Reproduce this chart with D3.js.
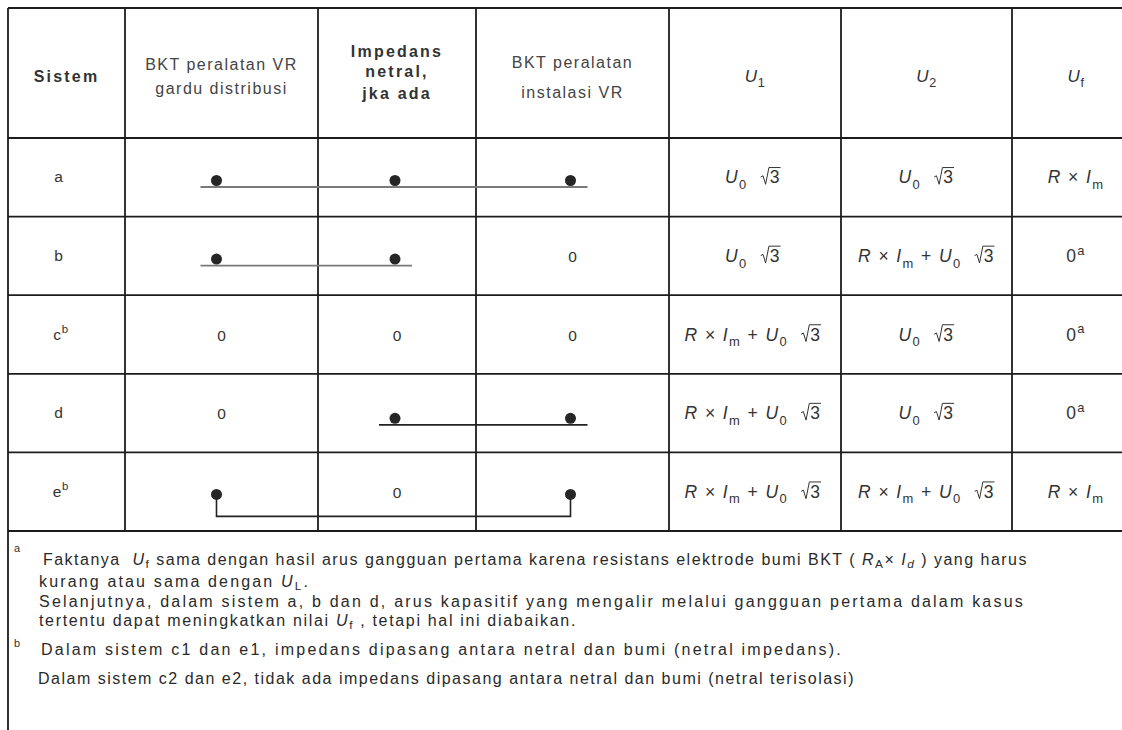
<!DOCTYPE html>
<html><head><meta charset="utf-8">
<script src="https://cdn.jsdelivr.net/npm/d3@7"></script>
<style>
body{margin:0;background:#fff}
svg{display:block}
text{font-family:"Liberation Sans",Arial,Helvetica,sans-serif;white-space:pre}
</style>
</head><body>
<svg id="chart" width="1122" height="730"></svg>
<script>
// ---------- data ----------
const columns = ["sistem","gardu","impedans","instalasi","u1","u2","uf"];
const headerLines = [
  ["Sistem"],
  ["BKT peralatan VR","gardu distribusi"],
  ["Impedans","netral,","jka ada"],
  ["BKT peralatan","instalasi VR"],
  ["U1"], ["U2"], ["Uf"]
];
const systems = ["a","b","c","d","e"];
const systemSup = ["","","b","","b"];
const gardu = ["dot","dot","0","0","dot"];
const impedans = ["dot","dot","0","dot","0"];
const instalasi = ["dot","0","0","dot","dot"];
const links = [
  {row:"a", from:"gardu", to:"instalasi", kind:"flat"},
  {row:"b", from:"gardu", to:"impedans", kind:"flat"},
  {row:"d", from:"impedans", to:"instalasi", kind:"flat"},
  {row:"e", from:"gardu", to:"instalasi", kind:"bracket"}
];
const u1 = ["sqrt","sqrt","sum","sum","sum"];
const u2 = ["sqrt","sum","sqrt","sqrt","sum"];
const uf = ["rim","zero","zero","zero","rim"];
const notes = [
  {mark:"a", segs:[{t:" Faktanya  "},{t:"U",i:1},{t:"f",sub:1},{t:" sama dengan hasil arus gangguan pertama karena resistans elektrode bumi BKT ( "},{t:"R",i:1},{t:"A",sub:1},{t:"× "},{t:"I",i:1},{t:"d",sub:1,i:1},{t:" ) yang harus"}]},
  {mark:"", segs:[{t:"kurang atau sama dengan "},{t:"U",i:1},{t:"L",sub:1},{t:"."}]},
  {mark:"", segs:[{t:"Selanjutnya, dalam sistem a, b dan d, arus kapasitif yang mengalir melalui gangguan pertama dalam kasus"}]},
  {mark:"", segs:[{t:"tertentu dapat meningkatkan nilai "},{t:"U",i:1},{t:"f",sub:1},{t:" , tetapi hal ini diabaikan."}]},
  {mark:"b", segs:[{t:"Dalam sistem c1 dan e1, impedans dipasang antara netral dan bumi (netral impedans)."}]},
  {mark:"", segs:[{t:"Dalam sistem c2 dan e2, tidak ada impedans dipasang antara netral dan bumi (netral terisolasi)"}]}
];
const formulas = {
  sqrt:[{t:"U",i:1},{t:"0",sub:1},{t:"  "},{sqrt:"3"}],
  sum:[{t:"R",i:1},{t:" × "},{t:"I",i:1},{t:"m",sub:1},{t:" + "},{t:"U",i:1},{t:"0",sub:1},{t:"  "},{sqrt:"3"}],
  rim:[{t:"R",i:1},{t:" × "},{t:"I",i:1},{t:"m",sub:1}],
  zero:[{t:"0"},{t:"a",sup:1}]
};

// ---------- layout ----------
const W = 1122, H = 730;
const colEdges = [8,125,318,476,669,841,1012,1140];
const tableTop = 8, headBottom = 138, tableBottom = 531;
const svg = d3.select("#chart");
const lineColor = "#1c1c1c";
const textColor = "#333";
const FS = 15.5;

const colX = d3.scaleOrdinal().domain(columns).range(colEdges.slice(0,7));
const colW = c => colEdges[columns.indexOf(c)+1] - colEdges[columns.indexOf(c)];
const colC = c => colX(c) + colW(c)/2;
const rowY = d3.scaleBand().domain(systems).range([headBottom, tableBottom]);
const rowC = r => rowY(r) + rowY.bandwidth()/2 + 1;

function rich(parent, segs, x, y, o) {
  const g = parent.append("g");
  const fs = o.size || FS, ls = o.ls == null ? 1 : o.ls, fill = o.fill || textColor;
  const subShift = o.subShift == null ? 0.32 : o.subShift;
  let cx = 0;
  segs.forEach(s => {
    if (s.sqrt) {
      const t = g.append("text").attr("x", cx + fs*0.55).attr("y", 0)
        .attr("font-size", fs).attr("fill", fill).style("letter-spacing", ls + "px").text(s.sqrt);
      const w = t.node().getComputedTextLength();
      const r = cx + 0.5, top = -fs * 0.9;
      g.append("path")
        .attr("d", `M${r},${-fs*0.36} L${r+fs*0.13},${-fs*0.43} L${r+fs*0.28},${1} L${r+fs*0.47},${top} L${cx+fs*0.55+w-ls+1},${top}`)
        .attr("fill","none").attr("stroke", fill).attr("stroke-width", 1);
      cx += fs*0.55 + w;
    } else {
      const small = s.sub || s.sup;
      const size = small ? fs * 0.74 : fs;
      const dy = s.sub ? fs * subShift : s.sup ? -fs * 0.42 : 0;
      const t = g.append("text").attr("x", cx).attr("y", dy)
        .attr("font-size", size).attr("fill", fill)
        .attr("font-style", s.i ? "italic" : null)
        .attr("font-weight", o.bold ? "bold" : null)
        .style("letter-spacing", ls + "px").text(s.t);
      cx += t.node().getComputedTextLength();
    }
  });
  const tx = o.anchor === "middle" ? x - cx / 2 : x;
  g.attr("transform", `translate(${tx},${y})`);
  return cx;
}

// ---------- grid ----------
const grid = svg.append("g").attr("stroke", lineColor).attr("stroke-width", 1.8);
const hLines = [tableTop, headBottom, ...systems.map(s => rowY(s) + rowY.bandwidth())];
grid.selectAll("line.h").data(hLines).join("line").attr("class","h")
  .attr("x1", colEdges[0]).attr("x2", W).attr("y1", d => d).attr("y2", d => d);
grid.selectAll("line.v").data(colEdges.slice(1,7)).join("line").attr("class","v")
  .attr("x1", d => d).attr("x2", d => d).attr("y1", tableTop).attr("y2", tableBottom);
grid.append("line").attr("x1", colEdges[0]).attr("x2", colEdges[0]).attr("y1", tableTop).attr("y2", H);

// ---------- header ----------
const headerStyle = {
  sistem:{bold:true, ys:[77]},
  gardu:{ys:[65,89], fill:"#444"},
  impedans:{bold:true, ys:[52,72,94]},
  instalasi:{ys:[63,93], fill:"#444"},
  u1:{ys:[77]}, u2:{ys:[77]}, uf:{ys:[77]}
};
columns.forEach((c, i) => {
  const st = headerStyle[c];
  headerLines[i].forEach((ln, j) => {
    const isU = /^U/.test(ln);
    const segs = isU ? [{t:"U", i:1},{t:ln.slice(1), sub:1}] : [{t:ln}];
    rich(svg, segs, colC(c), st.ys[j] + 5, {anchor:"middle", bold:st.bold, fill:st.fill || textColor,
      ls: st.bold ? 2.2 : (isU ? 0.5 : 1.5), size: isU ? 17 : 16});
  });
});

// ---------- body ----------
systems.forEach((s, i) => {
  rich(svg, [{t:s},{t:systemSup[i], sup:1}], 59 + (systemSup[i] ? 2 : 0), rowC(s) + 4,
       {anchor:"middle", fill:"#333", ls:0.8});
});

const dotOffset = {gardu:-5, impedans:-2, instalasi:-2};
const cellCols = {gardu, impedans, instalasi};
const linkOf = r => links.find(l => l.row === r);
const flatY = r => rowY(r) + (r === "d" ? 51 : 49);
const dotY = r => {
  const l = linkOf(r);
  if (l && l.kind === "bracket") return rowY(r) + 42;
  if (l) return flatY(r) - 6.5;
  return rowC(r);
};
const dotX = c => colC(c) + dotOffset[c];

const linkColor = {a:"#7a7a7a", b:"#7a7a7a", d:"#222", e:"#222"};
links.forEach(l => {
  if (l.kind === "flat") {
    svg.append("line").attr("x1", dotX(l.from) - 16).attr("x2", dotX(l.to) + 17)
      .attr("y1", flatY(l.row)).attr("y2", flatY(l.row))
      .attr("stroke", linkColor[l.row]).attr("stroke-width", 1.8);
  } else {
    const by = rowY(l.row) + 64, y0 = dotY(l.row);
    svg.append("path")
      .attr("d", `M${dotX(l.from)},${y0} V${by} H${dotX(l.to)} V${y0}`)
      .attr("fill","none").attr("stroke", linkColor[l.row]).attr("stroke-width", 1.6);
  }
});

Object.entries(cellCols).forEach(([c, vals]) => {
  vals.forEach((v, i) => {
    const r = systems[i];
    if (v === "dot") {
      svg.append("circle").attr("cx", dotX(c)).attr("cy", dotY(r)).attr("r", 5.5).attr("fill", "#262626");
    } else {
      rich(svg, [{t:v}], colC(c), rowC(r) + 5, {anchor:"middle", ls:0});
    }
  });
});

const formulaCols = {u1, u2, uf};
Object.entries(formulaCols).forEach(([c, vals]) => {
  vals.forEach((v, i) => {
    rich(svg, formulas[v], colC(c) - (c === "u1" ? 2 : 0), rowC(systems[i]) + 5, {anchor:"middle", ls:1.4, size:17.5});
  });
});

// ---------- footnotes ----------
const noteY = [560, 582, 602, 621, 650, 679];
const noteX = [37, 39, 39, 39, 41, 38];
const noteEnd = [1028, 310, 1025, 577, 843, 855];
const markY = {a:552, b:647};
const NFS = 16;
notes.forEach((n, i) => {
  const probe = svg.append("g");
  const w0 = rich(probe, n.segs, 0, -100, {ls:0, size:NFS, subShift:0.2});
  probe.remove();
  const nChars = n.segs.map(s => s.t).join("").length;
  const ls = Math.max(0, (noteEnd[i] - noteX[i] - w0) / nChars);
  if (n.mark) rich(svg, [{t:n.mark}], 14, markY[n.mark], {size:11, ls:0, fill:"#333"});
  rich(svg, n.segs, noteX[i], noteY[i] + 5, {ls, size:NFS, fill:"#2a2a2a", subShift:0.2});
});
</script>
</body></html>
